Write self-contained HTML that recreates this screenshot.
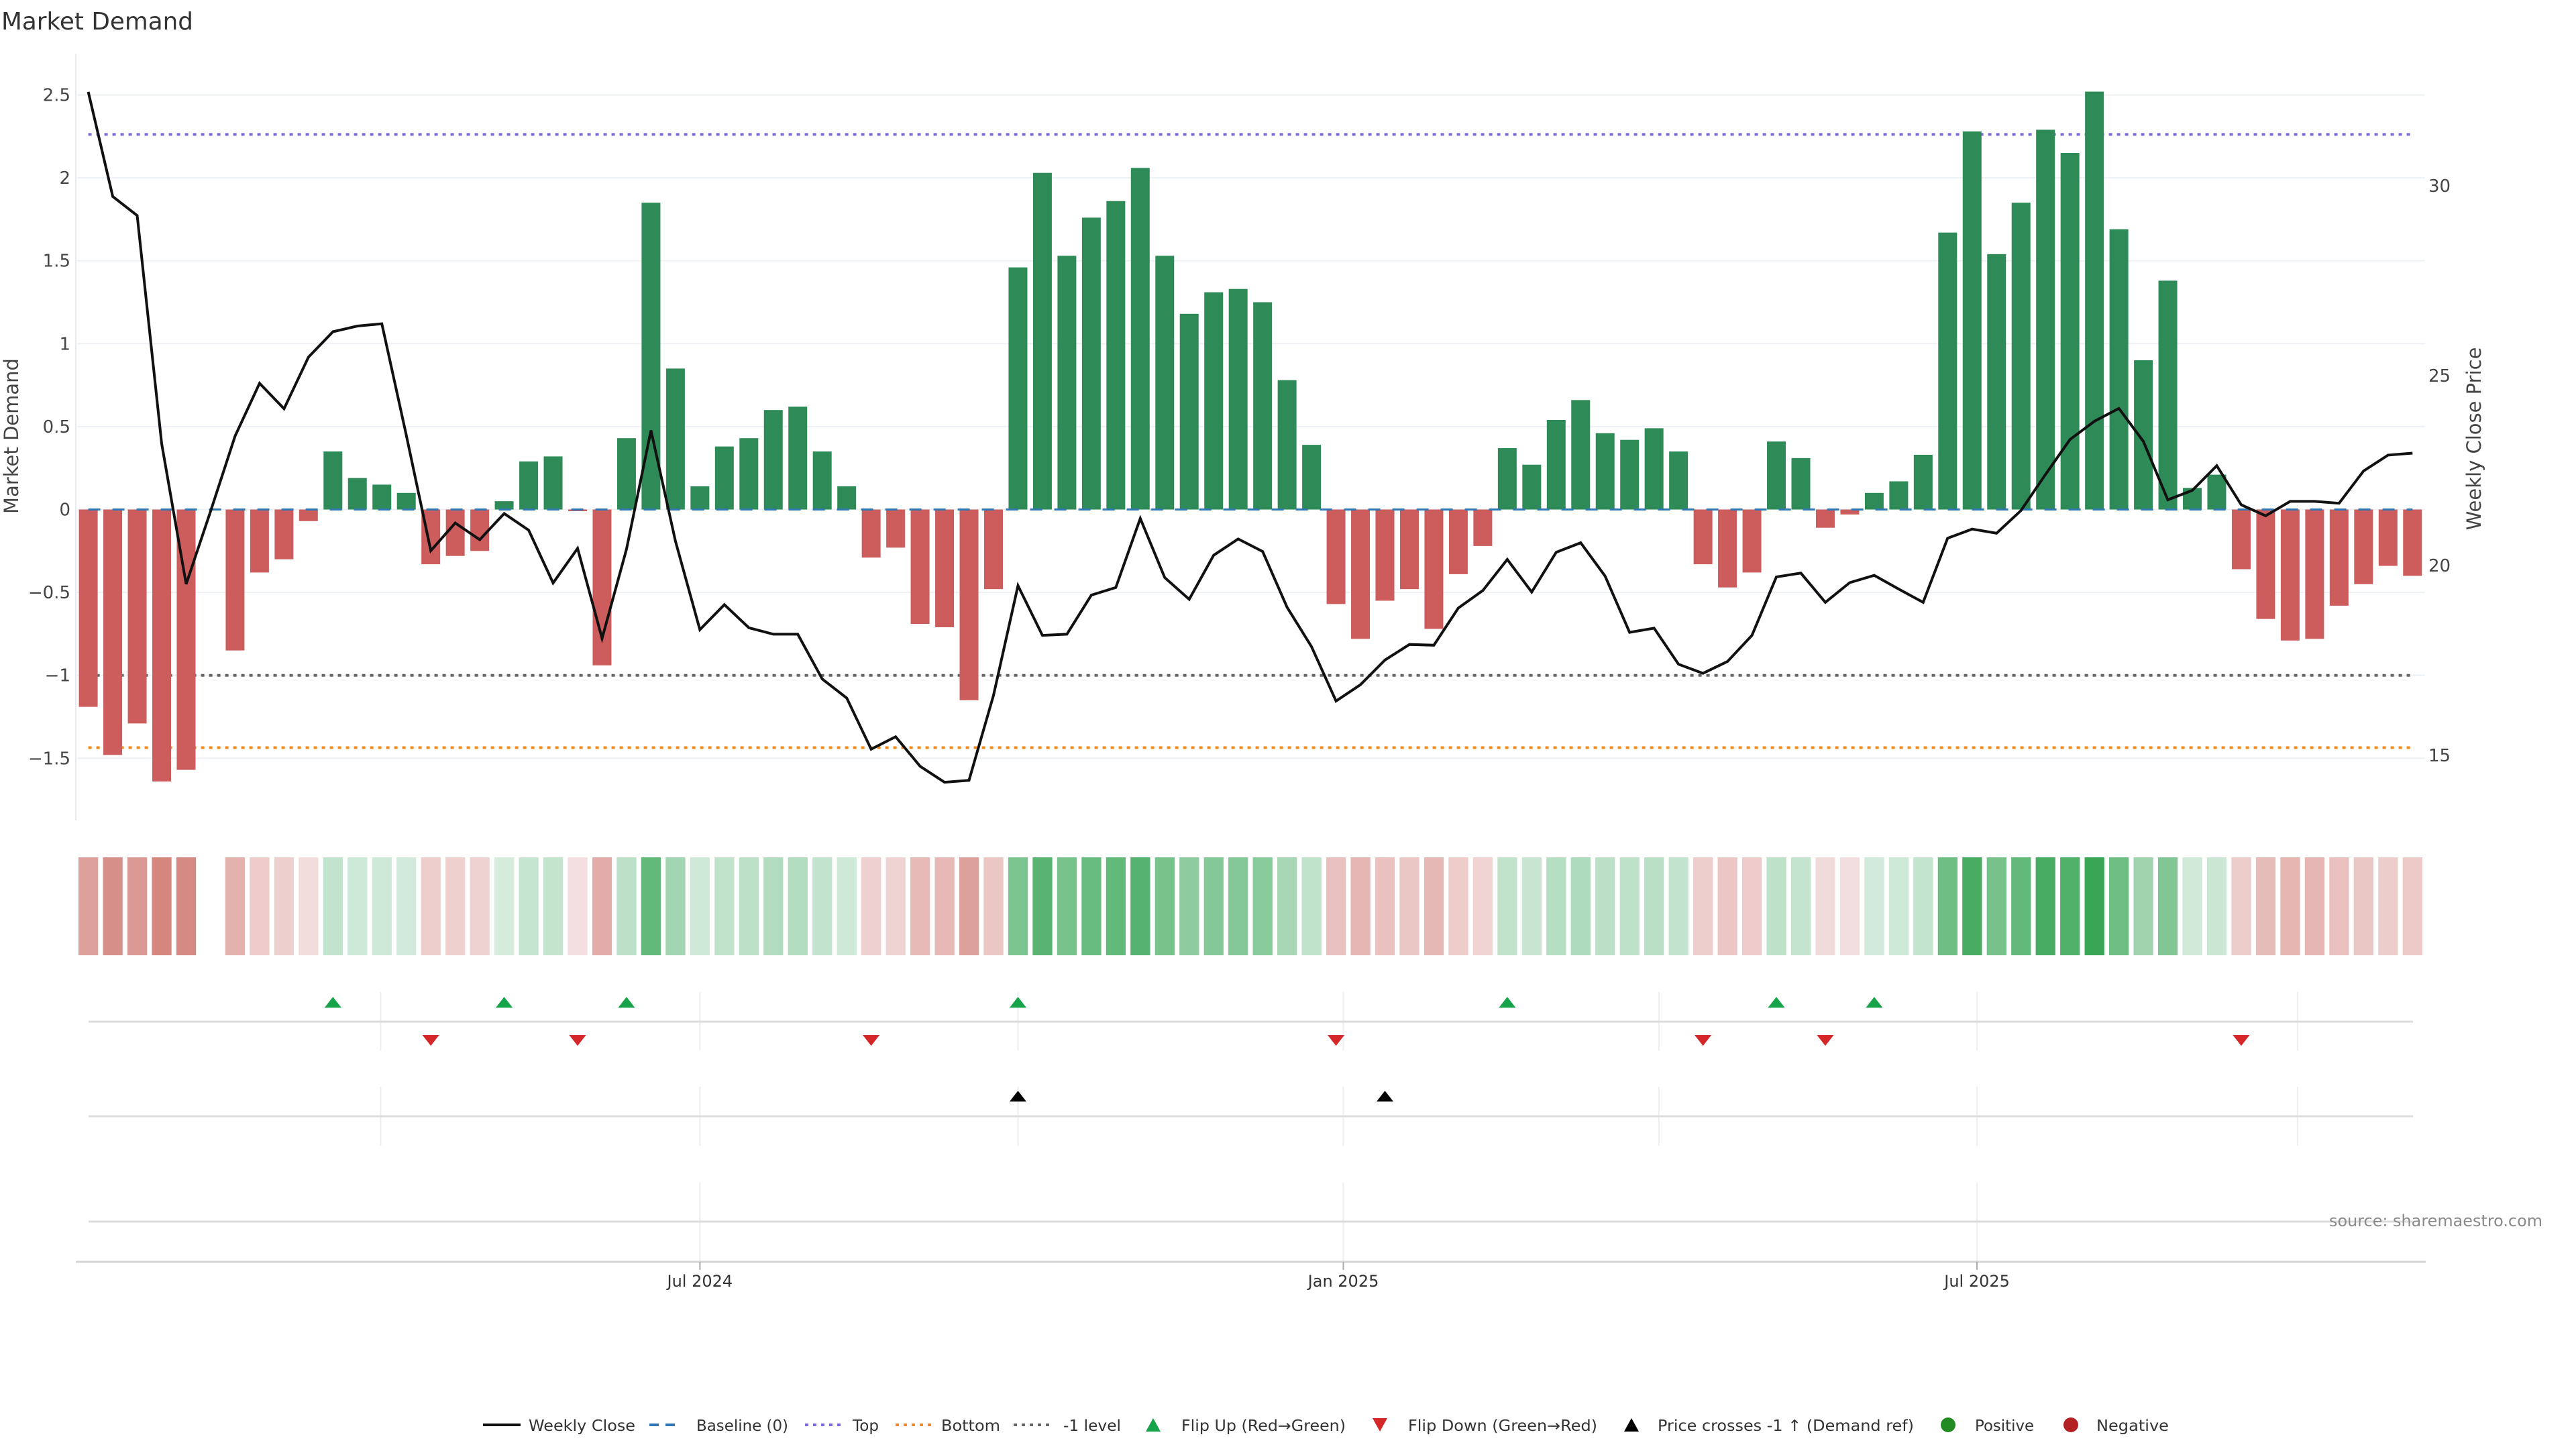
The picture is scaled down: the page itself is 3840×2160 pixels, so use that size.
<!DOCTYPE html>
<html><head><meta charset="utf-8"><title>Market Demand</title>
<style>
html,body{margin:0;padding:0;background:#fff;width:3840px;height:2160px;overflow:hidden}
svg text{font-family:"DejaVu Sans","Liberation Sans",sans-serif}
</style></head>
<body>
<svg id="chart" width="3840" height="2160" viewBox="0 0 3840 2160" xmlns="http://www.w3.org/2000/svg">
<rect x="0" y="0" width="3840" height="2160" fill="#fff"/>
<text x="2" y="44" font-size="36" fill="#333" textLength="286" lengthAdjust="spacingAndGlyphs">Market Demand</text>
<g id="grid"></g>
<g id="refs"></g>
<g id="bars"></g>
<g id="line"></g>
<g id="axes"></g>
<g id="heat"></g>
<g id="panels"></g>
<g id="legend"></g>
<text x="3790" y="1828" font-size="24" fill="#8a8a8a" text-anchor="end" textLength="318" lengthAdjust="spacingAndGlyphs">source: sharemaestro.com</text>
</svg>
<script>
const demand = [-1.19,-1.48,-1.29,-1.64,-1.57,null,-0.85,-0.38,-0.30,-0.07,
0.35,0.19,0.15,0.10,-0.33,-0.28,-0.25,0.05,0.29,0.32,
-0.01,-0.94,0.43,1.85,0.85,0.14,0.38,0.43,0.60,0.62,
0.35,0.14,-0.29,-0.23,-0.69,-0.71,-1.15,-0.48,1.46,2.03,
1.53,1.76,1.86,2.06,1.53,1.18,1.31,1.33,1.25,0.78,
0.39,-0.57,-0.78,-0.55,-0.48,-0.72,-0.39,-0.22,0.37,0.27,
0.54,0.66,0.46,0.42,0.49,0.35,-0.33,-0.47,-0.38,0.41,
0.31,-0.11,-0.03,0.10,0.17,0.33,1.67,2.28,1.54,1.85,
2.29,2.15,2.52,1.69,0.90,1.38,0.13,0.21,-0.36,-0.66,
-0.79,-0.78,-0.58,-0.45,-0.34,-0.40];
const price = [32.48,29.72,29.22,23.21,19.51,21.43,23.41,24.80,24.13,25.49,
26.16,26.31,26.37,23.43,20.39,21.12,20.68,21.37,20.93,19.54,
20.45,18.08,20.43,23.56,20.64,18.31,18.97,18.36,18.19,18.19,
17.01,16.51,15.16,15.49,14.71,14.29,14.34,16.58,19.47,18.16,
18.19,19.22,19.42,21.24,19.68,19.11,20.27,20.70,20.37,18.90,
17.86,16.43,16.86,17.51,17.92,17.90,18.88,19.34,20.16,19.30,
20.35,20.60,19.72,18.24,18.35,17.40,
17.16,17.47,18.16,19.70,19.80,19.03,19.55,19.74,19.38,19.03,20.72,20.96,20.85,21.45,22.40,23.32,23.80,24.14,23.27,21.73,21.98,22.63,21.60,21.31,21.69,21.69,21.64,22.49,22.91,22.96];
const demandTicks = [2.5,2,1.5,1,0.5,0,-0.5,-1,-1.5];
const demandTickLabels = ["2.5","2","1.5","1","0.5","0","\u22120.5","\u22121","\u22121.5"];
const priceTicks = [15,20,25,30];
const refLevels = [2.262,-1.436,-1];
const dateLabels = ["Jul 2024","Jan 2025","Jul 2025"];
const dateLabelIdx = [25.0,51.3,77.2];
const quarterIdx = [11.95,25.0,38.0,51.3,64.2,77.2,90.3];

const NS="http://www.w3.org/2000/svg";
function mk(tag, attrs, parent){const e=document.createElementNS(NS,tag);for(const k in attrs)e.setAttribute(k,attrs[k]);parent.appendChild(e);return e;}
const X0=131.6, DX=36.47;
function xBar(i){return X0+i*DX;}
function yD(v){return 759.5-v*247.2;}
function yP(p){return 843-(p-20)*56.58;}
function pFromY(y){return 20-(y-843)/56.58;}

const grid=document.getElementById('grid');
demandTicks.forEach((t,k)=>{
  const l=mk('line',{x1:115,x2:3615,y1:yD(t),y2:yD(t),stroke:'#edf0f4','stroke-width':2},grid);
  
  
});
const axes=document.getElementById('axes');
let ax=mk('line',{x1:113,x2:113,y1:80,y2:1223,stroke:'#e6e9ee','stroke-width':2},axes);


demandTicks.forEach((t,k)=>{
  const tx=mk('text',{x:105,y:yD(t)+9,'font-size':26,fill:'#444','text-anchor':'end'},axes);
  tx.textContent=demandTickLabels[k];
  
  
});
priceTicks.forEach(t=>{
  const tx=mk('text',{x:3620,y:yP(t)+9,'font-size':26,fill:'#444'},axes);
  tx.textContent=String(t);
  
  
});
let yt=mk('text',{x:0,y:0,'font-size':29,fill:'#444','text-anchor':'middle',transform:'translate(27,650) rotate(-90)'},axes);
yt.textContent='Market Demand';


let yt2=mk('text',{x:0,y:0,'font-size':29,fill:'#444','text-anchor':'middle',transform:'translate(3698,654) rotate(-90)'},axes);
yt2.textContent='Weekly Close Price';



const refs=document.getElementById('refs');
const refColors=['#7b6bd9','#f08a1e','#666'];
const refNames=['top-line','bottom-line','minus-one-level-line'];
refLevels.forEach((v,k)=>{
  const l=mk('line',{x1:xBar(0),x2:xBar(demand.length-1),y1:yD(v),y2:yD(v),stroke:refColors[k],'stroke-width':4,'stroke-dasharray':'5,7'},refs);
  
  
});

const bars=document.getElementById('bars');
demand.forEach((v,i)=>{
  if(v===null) return;
  const y0=yD(0), y1=yD(v);
  const r=mk('rect',{x:xBar(i)-14,y:Math.min(y0,y1),width:28,height:Math.max(1.5,Math.abs(y1-y0)),fill:v>=0?'#2e8b57':'#cd5c5c'},bars);
  
  
});
let bl=mk('line',{x1:xBar(0),x2:xBar(demand.length-1),y1:yD(0),y2:yD(0),stroke:'#2f77b4','stroke-width':3,'stroke-dasharray':'18,18'},bars);



const lineG=document.getElementById('line');
const pts=price.map((p,i)=>xBar(i).toFixed(1)+','+yP(p).toFixed(1)).join(' ');
let pl=mk('polyline',{points:pts,fill:'none',stroke:'#111','stroke-width':4,'stroke-linejoin':'miter'},lineG);



const heat=document.getElementById('heat');
function heatColor(v){
  const a=Math.abs(v);
  if(v>=0){return 'rgb('+Math.round(Math.max(0,216-63*a))+','+Math.round(237-28*a)+','+Math.round(224-55*a)+')';}
  return 'rgb('+Math.round(243-19*a)+','+Math.round(Math.max(0,224-55*a))+','+Math.round(Math.max(0,224-59*a))+')';
}
demand.forEach((v,i)=>{
  if(v===null) return;
  const r=mk('rect',{x:xBar(i)-14.6,y:1278,width:29.3,height:146,fill:heatColor(v)},heat);
  
  
});

const panels=document.getElementById('panels');
function vgrid(idxs,y1,y2){idxs.forEach(q=>{const l=mk('line',{x1:xBar(q),x2:xBar(q),y1:y1,y2:y2,stroke:'#eceef1','stroke-width':2},panels);});}
vgrid(quarterIdx,1479,1566);
vgrid(quarterIdx,1620,1708);
vgrid(dateLabelIdx,1763,1881);
[1523,1664,1821].forEach(y=>{
  const l=mk('line',{x1:132,x2:3597,y1:y,y2:y,stroke:'#dcdcdc','stroke-width':3},panels);
  
  
});
let xa=mk('line',{x1:113,x2:3616,y1:1881,y2:1881,stroke:'#d4d4d4','stroke-width':3},panels);


dateLabels.forEach((s,k)=>{
  const x=xBar(dateLabelIdx[k]);
  const tk=mk('line',{x1:x,x2:x,y1:1881,y2:1893,stroke:'#aaa','stroke-width':2},panels);
  
  
  const t=mk('text',{x:x,y:1918,'font-size':24,fill:'#333','text-anchor':'middle'},panels);
  t.textContent=s;
  
  
});
function tri(cx,cy,up,color){
  const w=12.5,h=8;
  const p=up?[[cx-w,cy+h],[cx+w,cy+h],[cx,cy-h]]:[[cx-w,cy-h],[cx+w,cy-h],[cx,cy+h]];
  return mk('polygon',{points:p.map(a=>a.join(',')).join(' '),fill:color},panels);
}
let prev=null;
demand.forEach((v,i)=>{
  if(v===null) return;
  if(prev!==null){
    if(prev<0 && v>=0){const t=tri(xBar(i),1494,true,'#17a34a');}
    if(prev>=0 && v<0){const t=tri(xBar(i),1551,false,'#d62728');}
  }
  prev=v;
});
const crossP=pFromY(yD(-1));
price.forEach((p,i)=>{
  if(i>0 && price[i-1]<crossP && p>=crossP){
    const t=tri(xBar(i),1634,true,'#000');
    
    
  }
});

const lg=document.getElementById('legend');
const LY=2124;
function ltext(x,s,w){const t=mk('text',{x:x,y:LY+9,'font-size':23,fill:'#333',textLength:w,lengthAdjust:'spacingAndGlyphs'},lg);t.textContent=s;return t;}
function lline(x1,x2,color,dash,w){const l=mk('line',{x1:x1,x2:x2,y1:LY,y2:LY,stroke:color,'stroke-width':w,'stroke-dasharray':dash},lg);}
lline(720,776,'#111','none',4); ltext(788,'Weekly Close',159);
lline(968,1010,'#2f77b4','14,10',4); ltext(1038,'Baseline (0)',137);
lline(1200,1254,'#7b6bd9','5,7',4); ltext(1271,'Top',39);
lline(1335,1389,'#f08a1e','5,7',4); ltext(1403,'Bottom',88);
lline(1511,1567,'#666','5,7',4); ltext(1585,'-1 level',86);
function ltri(cx,up,color){const w=11,h=10;const p=up?[[cx-w,LY+h],[cx+w,LY+h],[cx,LY-h]]:[[cx-w,LY-h],[cx+w,LY-h],[cx,LY+h]];const t=mk('polygon',{points:p.map(a=>a.join(',')).join(' '),fill:color},lg);}
ltri(1719,true,'#17a34a'); ltext(1761,'Flip Up (Red\u2192Green)',245);
ltri(2057,false,'#d62728'); ltext(2099,'Flip Down (Green\u2192Red)',282);
ltri(2432,true,'#000'); ltext(2471,'Price crosses -1 \u2191 (Demand ref)',382);
let c1=mk('circle',{cx:2904,cy:LY,r:11,fill:'#228b22'},lg);


ltext(2944,'Positive',88);
let c2=mk('circle',{cx:3087,cy:LY,r:11,fill:'#b22222'},lg);


ltext(3125,'Negative',108);
</script>
</body></html>
